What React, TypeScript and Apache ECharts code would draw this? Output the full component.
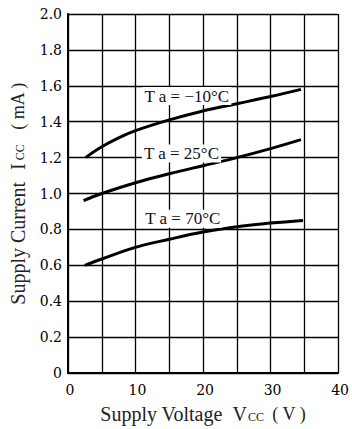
import React, { useEffect, useRef } from "react";
import * as echarts from "echarts";

const voltsMinus10 = [2.6, 5, 7.5, 10, 15, 20, 25, 30, 34.5];
const currentMinus10 = [1.2, 1.26, 1.31, 1.35, 1.41, 1.46, 1.5, 1.54, 1.58];

const volts25 = [2.3, 5, 10, 15, 20, 25, 30, 34.5];
const current25 = [0.96, 1.0, 1.06, 1.11, 1.155, 1.2, 1.25, 1.3];

const volts70 = [2.5, 5, 10, 15, 20, 25, 30, 34.8];
const current70 = [0.6, 0.635, 0.7, 0.745, 0.785, 0.815, 0.835, 0.85];

const curveLabels = ["T a = −10°C", "T a = 25°C", "T a = 70°C"];
const labelCoords = [
  [17.6, 1.543],
  [16.8, 1.223],
  [17.0, 0.86],
];

const xAxisTitle = "Supply Voltage";
const yAxisTitle = "Supply Current";

const serif = "'Liberation Serif', 'Times New Roman', serif";
const tickFont = "'DejaVu Serif', serif";

function zip(xs: number[], ys: number[]) {
  return xs.map((x, i) => [x, ys[i]]);
}

export default function App() {
  const ref = useRef<HTMLDivElement>(null);
  useEffect(() => {
    if (!ref.current) return;
    const chart = echarts.init(ref.current, null, { renderer: "svg" });
    const sets = [
      zip(voltsMinus10, currentMinus10),
      zip(volts25, current25),
      zip(volts70, current70),
    ];
    chart.setOption({
      animation: false,
      backgroundColor: "#fff",
      grid: { left: 61, right: 13, top: 14, bottom: 52, containLabel: false },
      xAxis: {
        type: "value",
        min: 0,
        max: 40,
        interval: 5,
        name: `${xAxisTitle}  {v|V}{sub|CC}{p|( V )}`,
        nameLocation: "middle",
        nameGap: 31,
        nameTextStyle: {
          fontFamily: serif,
          fontSize: 20,
          color: "#222",
          rich: {
            v: { fontFamily: serif, fontSize: 20, color: "#222" },
            sub: { fontFamily: serif, fontSize: 12, color: "#222", padding: [6, 0, 0, 1] },
            p: { fontFamily: serif, fontSize: 18, color: "#222", padding: [0, 0, 0, 8] },
          },
        },
        axisLine: { show: true, lineStyle: { color: "#000", width: 2 } },
        axisTick: { show: false },
        axisLabel: {
          fontFamily: tickFont,
          fontSize: 14,
          color: "#000",
          margin: 10,
          padding: [0, 0, 0, 4],
          formatter: (v: number) => (v % 10 === 0 ? String(v) : ""),
        },
        splitLine: { show: true, lineStyle: { color: "#000", width: 1.3 } },
      },
      yAxis: {
        type: "value",
        min: 0,
        max: 2.0,
        interval: 0.2,
        name: `${yAxisTitle}{i|I}{sub|CC}{p|( mA )}`,
        nameLocation: "middle",
        nameGap: 40,
        nameRotate: 90,
        nameTextStyle: {
          fontFamily: serif,
          fontSize: 20,
          color: "#222",
          rich: {
            i: { fontFamily: serif, fontSize: 20, color: "#222", padding: [0, 0, 0, 12] },
            sub: { fontFamily: serif, fontSize: 12, color: "#222", padding: [4, 0, 0, 3] },
            p: { fontFamily: serif, fontSize: 18, color: "#222", padding: [0, 0, 0, 14] },
          },
        },
        axisLine: { show: true, lineStyle: { color: "#000", width: 2 } },
        axisTick: { show: false },
        axisLabel: {
          fontFamily: tickFont,
          fontSize: 14,
          color: "#000",
          margin: 6,
          formatter: (v: number) => (v === 0 ? "0" : v.toFixed(1)),
        },
        splitLine: { show: true, lineStyle: { color: "#000", width: 1.3 } },
      },
      series: sets.map((d, i) => ({
        type: "line",
        data: d,
        smooth: 0.4,
        showSymbol: false,
        lineStyle: { color: "#000", width: 3 },
        z: 3,
        markPoint: {
          symbol: "rect",
          symbolSize: 0,
          z: 5,
          data: [
            {
              coord: labelCoords[i],
              label: {
                show: true,
                formatter: curveLabels[i],
                position: "inside",
                fontFamily: serif,
                fontSize: 17,
                color: "#111",
                backgroundColor: "#fff",
                padding: [1, 2, 0, 2],
              },
            },
          ],
        },
      })),
    });
    return () => chart.dispose();
  }, []);
  return <div ref={ref} style={{ width: 352, height: 429, position: "absolute", left: 0, top: 0 }} />;
}
